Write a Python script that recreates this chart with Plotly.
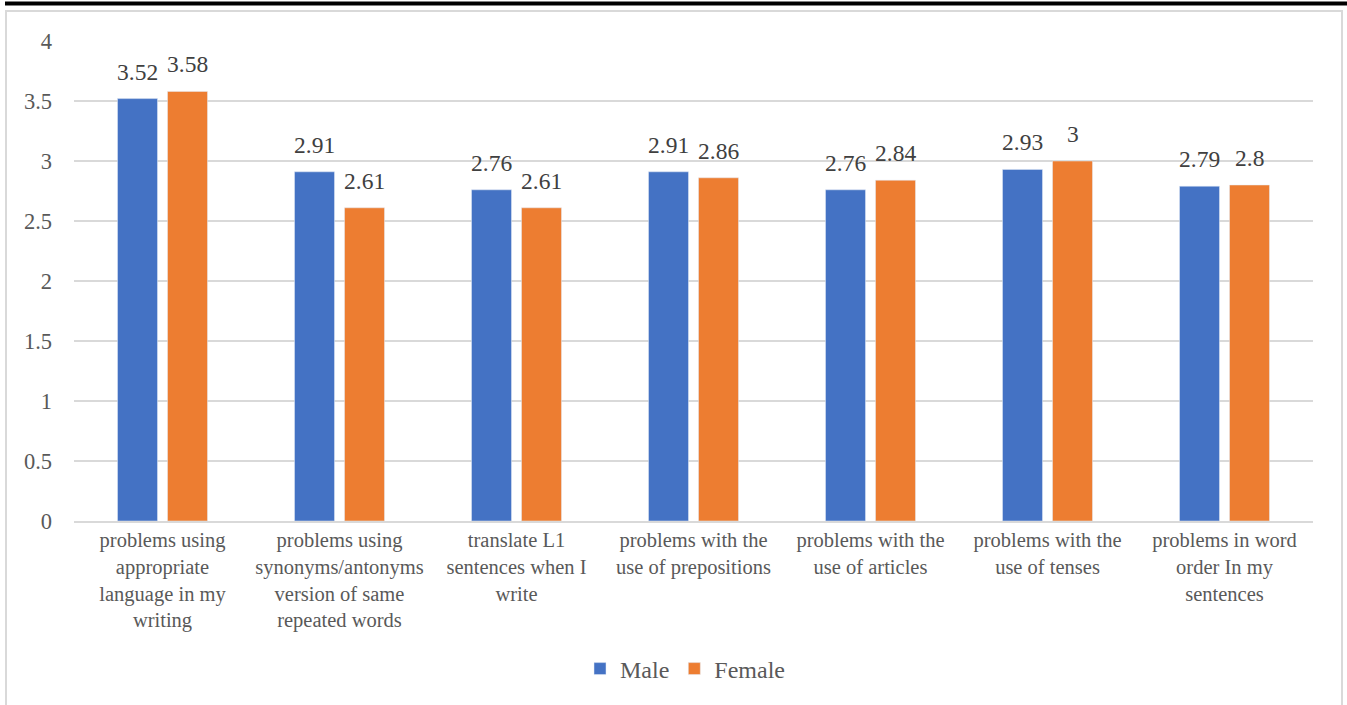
import plotly.graph_objects as go

categories = [
    "problems using<br>appropriate<br>language in my<br>writing",
    "problems using<br>synonyms/antonyms<br>version of same<br>repeated words",
    "translate L1<br>sentences when I<br>write",
    "problems with the<br>use of prepositions",
    "problems with the<br>use of articles",
    "problems with the<br>use of tenses",
    "problems in word<br>order In my<br>sentences",
]
male = [3.52, 2.91, 2.76, 2.91, 2.76, 2.93, 2.79]
female = [3.58, 2.61, 2.61, 2.86, 2.84, 3, 2.8]
y_ticks = [0, 0.5, 1, 1.5, 2, 2.5, 3, 3.5, 4]

FONT = "Liberation Serif"
GREY = "#595959"

W, H = 1347, 705
L, R, T, B = 74, 34, 41, 184
pw, ph = W - L - R, H - T - B
BARGAP, GROUPGAP = 0.435, 0.2

# horizontal offset of each series' bar centre from the category centre
cat_w = pw / len(categories)
slot = cat_w * (1 - BARGAP) / 2

fig = go.Figure()
annotations = []
series = [("Male", male, "#4472c4", -slot / 2), ("Female", female, "#ed7d31", slot / 2)]
for name, vals, color, dx in series:
    fig.add_trace(go.Bar(name=name, x=categories, y=vals, marker_color=color,
                         hoverinfo="x+y+name"))
    for cat, v in zip(categories, vals):
        annotations.append(dict(
            x=cat, y=v, xref="x", yref="y", text=f"{v:g}", showarrow=False,
            xanchor="center", yanchor="bottom", xshift=dx, yshift=12,
            font=dict(family=FONT, size=23.5, color="#404040"),
        ))

def px(x):
    return (x - L) / pw

def py(y):
    return 1 - (y - T) / ph

shapes = [
    # light frame around the chart
    dict(type="rect", xref="paper", yref="paper",
         x0=px(6), x1=px(1342), y0=py(720), y1=py(11),
         line=dict(color="#d9d9d9", width=2), layer="below"),
    # heavy rule along the top
    dict(type="rect", xref="paper", yref="paper",
         x0=px(5), x1=px(1347), y0=py(5.5), y1=py(1.5),
         line=dict(width=0), fillcolor="black"),
]

fig.update_layout(
    width=W, height=H,
    margin=dict(l=L, r=R, t=T, b=B),
    paper_bgcolor="white", plot_bgcolor="white",
    barmode="group", bargap=BARGAP, bargroupgap=GROUPGAP,
    font=dict(family=FONT, color=GREY),
    showlegend=True,
    legend=dict(orientation="h", x=px(685), xanchor="center", y=py(669), yanchor="middle",
                font=dict(family=FONT, size=24, color=GREY), itemwidth=30,
                traceorder="normal"),
    shapes=shapes,
    annotations=annotations,
    xaxis=dict(showline=True, linecolor="#d9d9d9", linewidth=1.5,
               tickfont=dict(family=FONT, size=20.5, color=GREY), ticks=""),
    yaxis=dict(range=[0, 4], tickvals=y_ticks, ticktext=[f"{v:g}" for v in y_ticks],
               showgrid=True, gridcolor="#d9d9d9", gridwidth=1.5, zeroline=False,
               tickfont=dict(family=FONT, size=22.5, color=GREY), ticklabelstandoff=21),
)

fig.write_html("out.html")
